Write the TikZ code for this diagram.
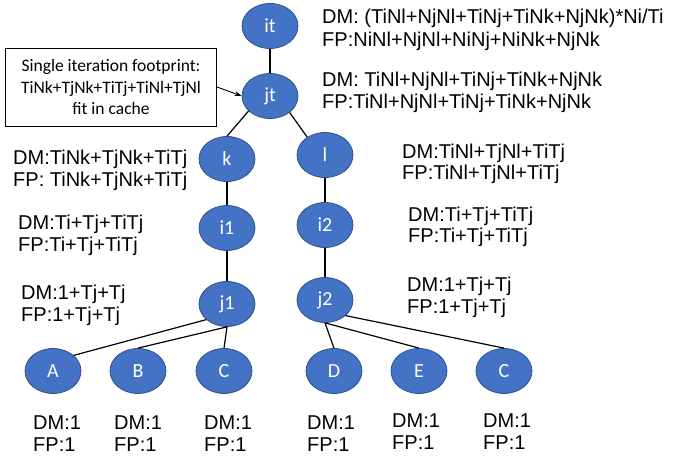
\documentclass[tikz,border=0pt]{standalone}
\usepackage{fontspec}
\setmainfont{Liberation Sans}
\newfontfamily\calfont{Carlito}
\usetikzlibrary{shapes.geometric,arrows.meta}
\definecolor{nodeblue}{HTML}{4472C4}
\definecolor{nodeedge}{HTML}{2F528F}
\newcommand{\twolines}[6]{%
  \node[lbl] (#1a) at (#2,#3+7) {#5};
  \node[lbl] (#1b) at (#2,#4+7) {#6};}
\begin{document}
\begin{tikzpicture}[x=1pt,y=-1pt,
  tnode/.style={ellipse, draw=nodeedge, line width=0.8pt, fill=nodeblue, text=white,
    font=\calfont\fontsize{20}{22}\selectfont, minimum width=56pt, minimum height=45pt, inner sep=0pt},
  lbl/.style={anchor=base west, inner sep=0pt, font=\fontsize{20}{22}\selectfont},
  conn/.style={line width=1.2pt, draw=black},
  callout/.style={draw=black, line width=0.9pt, fill=white, align=center, inner sep=0pt,
    minimum width=211pt, minimum height=78pt, font=\calfont\fontsize{17.5}{21.5}\selectfont}]
\useasboundingbox (0,0) rectangle (673,462);
% tree nodes
\node[tnode] (it) at (270,26) {it};
\node[tnode] (jt) at (270,96) {jt};
\node[tnode] (k) at (227,159) {k};
\node[tnode] (i1) at (227,228) {i1};
\node[tnode] (j1) at (227,304) {j1};
\node[tnode] (l) at (325,155) {l};
\node[tnode] (i2) at (325,225) {i2};
\node[tnode] (j2) at (325,300) {j2};
\node[tnode] (A) at (53,371) {A};
\node[tnode] (B) at (138,371) {B};
\node[tnode] (C) at (224,371) {C};
\node[tnode] (D) at (334,371) {D};
\node[tnode] (E) at (419,371) {E};
\node[tnode] (C2) at (504,371) {C};
% connectors
\draw[conn] (it.south) -- (jt.north);
\draw[conn] (jt.215) -- (k.north);
\draw[conn] (jt.320) -- (l.135);
\draw[conn] (k.south) -- (i1.north);
\draw[conn] (i1.south) -- (j1.north);
\draw[conn] (l.south) -- (i2.north);
\draw[conn] (i2.south) -- (j2.north);
\draw[conn] (j1.217) -- (A.37);
\draw[conn] (j1.south) -- (B.north);
\draw[conn] (j1.south) -- (C.north);
\draw[conn] (j2.south) -- (D.north);
\draw[conn] (j2.south) -- (E.north);
\draw[conn] (j2.323) -- (C2.north);
% callout
\node[callout] (box) at (111,87) {Single iteration footprint:\\TiNk+TjNk+TiTj+TiNl+TjNl\\fit in cache};
\draw[line width=0.9pt, -{Stealth[length=7pt,width=5pt]}] (box.east) -- (jt.west);
% labels
\twolines{t1}{322}{17}{40}{DM: (TiNl+NjNl+TiNj+TiNk+NjNk)*Ni/Ti}{FP:NiNl+NjNl+NiNj+NiNk+NjNk}
\twolines{t2}{322}{80}{102}{DM: TiNl+NjNl+TiNj+TiNk+NjNk}{FP:TiNl+NjNl+TiNj+TiNk+NjNk}
\twolines{tk}{13}{158}{180}{DM:TiNk+TjNk+TiTj}{FP: TiNk+TjNk+TiTj}
\twolines{ti1}{18}{223}{245}{DM:Ti+Tj+TiTj}{FP:Ti+Tj+TiTj}
\twolines{tj1}{21}{293}{315}{DM:1+Tj+Tj}{FP:1+Tj+Tj}
\twolines{tl}{402}{152}{173}{DM:TiNl+TjNl+TiTj}{FP:TiNl+TjNl+TiTj}
\twolines{ti2}{408}{215}{236}{DM:Ti+Tj+TiTj}{FP:Ti+Tj+TiTj}
\twolines{tj2}{407}{285}{307}{DM:1+Tj+Tj}{FP:1+Tj+Tj}
\twolines{tA}{33}{423}{445}{DM:1}{FP:1}
\twolines{tB}{114}{423}{445}{DM:1}{FP:1}
\twolines{tC}{204}{423}{445}{DM:1}{FP:1}
\twolines{tD}{307}{423}{445}{DM:1}{FP:1}
\twolines{tE}{392}{421}{443}{DM:1}{FP:1}
\twolines{tC2}{483}{421}{443}{DM:1}{FP:1}
\end{tikzpicture}
\end{document}
